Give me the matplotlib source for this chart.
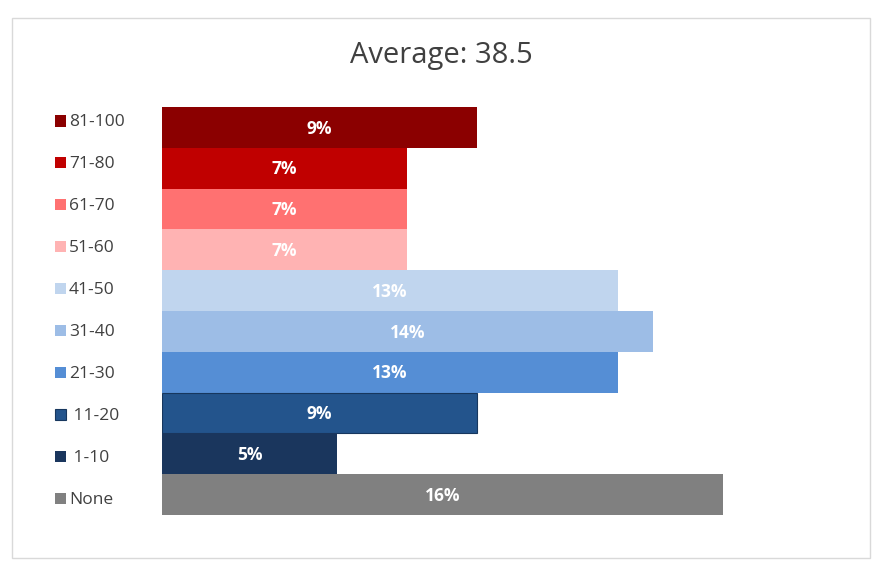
import matplotlib.pyplot as plt
from matplotlib.patches import Rectangle

# ---------- datos ----------
rangos = ['81-100', '71-80', '61-70', '51-60', '41-50', '31-40', '21-30', ' 11-20', ' 1-10', 'None']
porcentajes = [9, 7, 7, 7, 13, 14, 13, 9, 5, 16]
colores = ['#8B0000', '#C00000', '#FF7171', '#FFB3B3', '#C0D5EE',
           '#9DBDE6', '#558ED5', '#23548C', '#1A365D', '#808080']
titulo = 'Average: 38.5'

plt.rcParams['font.family'] = ['Open Sans', 'DejaVu Sans']

fig = plt.figure(figsize=(8.88, 5.68), dpi=100)
fig.patches.append(Rectangle((12 / 888, 10 / 568), 858 / 888, 540 / 568,
                             transform=fig.transFigure, fill=False,
                             edgecolor='#D9D9D9', linewidth=1))

ax = fig.add_axes([162 / 888, 53 / 568, 701 / 888, 408 / 568])
y = list(range(len(rangos)))[::-1]

for yi, val, col, nom in zip(y, porcentajes, colores, rangos):
    borde = '#17375E' if nom.strip() == '11-20' else col
    ax.barh(yi, val, height=1.0, color=col, edgecolor=borde,
            linewidth=0.8 if borde != col else 0)
    ax.text(val / 2, yi - 0.03, f'{val}%', ha='center', va='center',
            color='white', fontsize=12.5, fontweight='bold')

ax.set_xlim(0, 20)
ax.set_ylim(-0.5, len(rangos) - 0.5)
ax.axis('off')

# leyenda a la izquierda (espaciado propio, como en Excel)
paso = 41.9
for i, (col, nom) in enumerate(zip(colores, rangos)):
    borde = '#17375E' if nom.strip() == '11-20' else col
    yc = 121 + paso * i
    fig.patches.append(Rectangle((54.5 / 888, 1 - (yc + 5.5) / 568), 11 / 888, 11 / 568,
                                 transform=fig.transFigure, facecolor=col,
                                 edgecolor=borde, linewidth=0.8 if borde != col else 0))
    fig.text(69 / 888, 1 - (yc + 1.5) / 568, nom, ha='left', va='center',
             fontsize=12.5, color='#404040')

fig.text(441 / 888, 1 - 55 / 568, titulo, ha='center', va='center',
         fontsize=21, color='#404040')

fig.savefig('out.png', dpi=100)
